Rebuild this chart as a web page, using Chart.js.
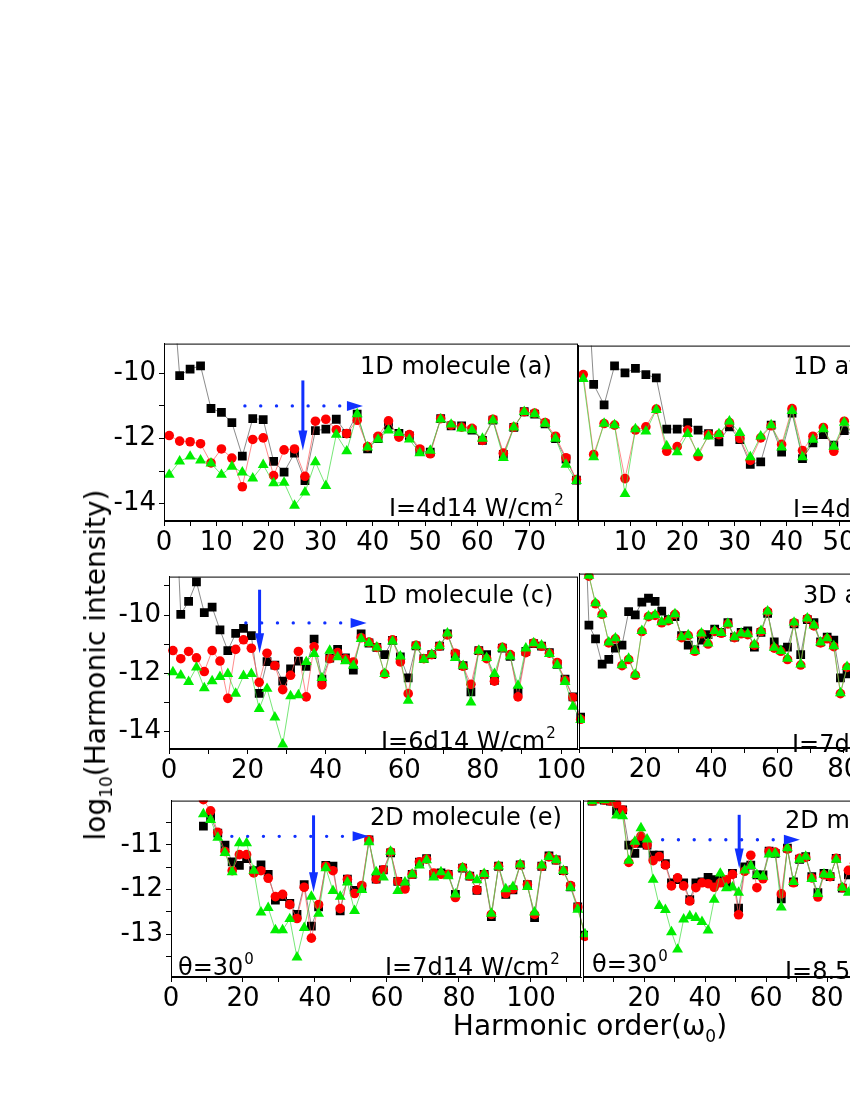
<!DOCTYPE html>
<html>
<head>
<meta charset="utf-8">
<script src="https://cdn.jsdelivr.net/npm/chart.js@4.4.1/dist/chart.umd.min.js"></script>
<style>
  html, body { margin: 0; padding: 0; background: #fff; }
  #fig { position: relative; width: 850px; height: 1100px; overflow: hidden; background: #fff; }
  #fig canvas { position: absolute; }
  .title { position: absolute; font-family: 'DejaVu Sans', sans-serif; font-size: 28px; color: #000; white-space: nowrap; line-height: 1; }
  .title span { font-size: 17px; position: relative; top: 7px; }
  #ytitle { left: 96px; top: 665px; transform: translate(-50%, -50%) rotate(-90deg); }
  #xtitle { left: 590px; top: 1026px; transform: translate(-50%, -50%); }
</style>
</head>
<body>
<div id="fig">
  <canvas id="pa"></canvas>
  <canvas id="pb"></canvas>
  <canvas id="pc"></canvas>
  <canvas id="pd"></canvas>
  <canvas id="pe"></canvas>
  <canvas id="pf"></canvas>
  <div class="title" id="ytitle">log<span>10</span>(Harmonic intensity)</div>
  <div class="title" id="xtitle">Harmonic order(ω<span>0</span>)</div>
</div>
<script>
// harmonic orders and log10 intensities
// black = squares, red = circles, green = triangles

// (a) 1D molecule, 4d14
const aH = [1, 3, 5, 7, 9, 11, 13, 15, 17, 19, 21, 23, 25, 27, 29, 31, 33, 35, 37, 39,
  41, 43, 45, 47, 49, 51, 53, 55, 57, 59, 61, 63, 65, 67, 69, 71, 73, 75, 77, 79];
const aBlack = [-6.0, -10.07, -9.87, -9.77, -11.08, -11.2, -11.51, -12.54, -11.39, -11.42,
  -12.7, -13.03, -12.45, -13.29, -11.76, -11.71, -11.41, -11.85, -11.25, -12.32,
  -12.0, -11.59, -11.84, -11.92, -12.37, -12.42, -11.39, -11.61, -11.61, -11.74,
  -12.06, -11.44, -12.49, -11.66, -11.18, -11.25, -11.55, -12.0, -12.63, -13.28];
const aRed = [-11.91, -12.08, -12.1, -12.16, -12.75, -12.32, -12.6, -13.48, -12.03, -11.98,
  -13.14, -12.35, -12.32, -13.16, -11.47, -11.41, -11.73, -11.85, -11.44, -12.25,
  -11.93, -11.46, -11.96, -11.88, -12.32, -12.47, -11.39, -11.59, -11.65, -11.69,
  -12.06, -11.41, -12.45, -11.65, -11.18, -11.22, -11.51, -11.93, -12.59, -13.26];
const aGreen = [-13.11, -12.7, -12.55, -12.67, -12.76, -13.11, -12.86, -13.04, -13.22, -12.81,
  -13.37, -13.35, -14.06, -13.65, -12.72, -13.45, -11.88, -12.39, -11.25, -12.27,
  -12.03, -11.75, -11.83, -12.03, -12.45, -12.37, -11.41, -11.57, -11.69, -11.74,
  -12.0, -11.44, -12.59, -11.66, -11.18, -11.25, -11.54, -12.0, -12.8, -13.3];

// (b) 1D atom, 4d14
const bH = [1, 3, 5, 7, 9, 11, 13, 15, 17, 19, 21, 23, 25, 27, 29, 31, 33, 35, 37, 39,
  41, 43, 45, 47, 49, 51, 53];
const bBlack = [-5.0, -10.34, -10.97, -9.77, -9.99, -9.85, -10.04, -10.14, -11.71, -11.71,
  -11.51, -11.74, -11.85, -12.1, -11.64, -12.03, -12.79, -12.72, -11.59, -12.42,
  -11.22, -12.62, -12.13, -11.88, -12.2, -11.76, -11.9];
const bRed = [-10.04, -12.49, -11.54, -11.59, -13.23, -11.74, -11.64, -11.1, -12.39, -12.25,
  -11.74, -12.55, -11.88, -11.88, -11.51, -12.0, -12.67, -11.98, -11.61, -12.18,
  -11.08, -12.37, -11.93, -11.66, -12.39, -11.47, -11.95];
const bGreen = [-10.17, -12.57, -11.54, -11.59, -13.7, -11.71, -11.78, -11.12, -12.23, -12.42,
  -11.86, -12.45, -11.93, -11.86, -11.47, -11.83, -12.57, -11.93, -11.59, -12.27,
  -11.15, -12.57, -12.03, -11.71, -12.25, -11.51, -11.95];

// (c) 1D molecule, 6d14
const cH = [1, 3, 5, 7, 9, 11, 13, 15, 17, 19, 21, 23, 25, 27, 29, 31, 33, 35, 37, 39,
  41, 43, 45, 47, 49, 51, 53, 55, 57, 59, 61, 63, 65, 67, 69, 71, 73, 75, 77, 79,
  81, 83, 85, 87, 89, 91, 93, 95, 97, 99, 101, 103, 105];
const cBlack = [-4.0, -9.98, -9.53, -8.86, -9.92, -9.73, -10.51, -11.22, -10.63, -10.46,
  -10.71, -12.69, -11.6, -11.72, -12.27, -11.85, -11.58, -11.76, -10.83, -12.2,
  -11.48, -11.18, -11.47, -11.89, -10.65, -10.96, -11.11, -11.36, -10.87, -11.44,
  -12.16, -11.06, -11.5, -11.36, -11.07, -10.65, -11.34, -11.74, -12.64, -11.22,
  -11.36, -12.24, -11.14, -11.42, -12.61, -11.25, -10.98, -11.07, -11.29, -11.69,
  -12.2, -12.81, -13.51];
const cRed = [-11.22, -11.5, -11.25, -11.47, -11.94, -11.22, -11.58, -12.86, -11.18, -10.85,
  -11.14, -12.31, -11.31, -11.74, -12.56, -12.07, -11.25, -12.81, -11.09, -12.4,
  -11.5, -11.29, -11.5, -11.61, -10.78, -10.93, -11.11, -12.02, -10.85, -11.61,
  -12.7, -11.04, -11.5, -11.36, -11.07, -10.68, -11.31, -11.76, -12.38, -11.22,
  -11.5, -12.27, -11.11, -11.36, -12.81, -11.29, -10.96, -11.07, -11.31, -11.63,
  -12.24, -12.83, -13.58];
const cGreen = [-11.96, -12.07, -12.29, -11.8, -12.51, -12.27, -12.12, -12.02, -12.7, -12.09,
  -12.02, -13.22, -12.53, -13.51, -14.44, -12.78, -12.75, -11.61, -11.33, -12.16,
  -11.22, -11.44, -11.58, -11.74, -10.82, -10.96, -11.11, -12.02, -10.9, -11.42,
  -12.94, -11.07, -11.53, -11.36, -11.07, -10.63, -11.47, -11.74, -13.0, -11.22,
  -11.47, -12.02, -11.14, -11.42, -12.42, -11.14, -10.96, -11.04, -11.33, -11.72,
  -12.29, -13.14, -13.6];

// (d) 3D atom, 7d14
const dH = [1, 3, 5, 7, 9, 11, 13, 15, 17, 19, 21, 23, 25, 27, 29, 31, 33, 35, 37, 39,
  41, 43, 45, 47, 49, 51, 53, 55, 57, 59, 61, 63, 65, 67, 69, 71, 73, 75, 77, 79, 81];
const dBlack = [-4.0, -10.35, -10.82, -11.69, -11.53, -11.14, -11.04, -9.89, -10.0, -9.56,
  -9.43, -9.54, -9.87, -10.16, -10.06, -10.71, -11.04, -11.2, -10.87, -10.68,
  -10.49, -10.6, -10.27, -10.76, -10.6, -10.55, -11.11, -10.6, -9.95, -10.93,
  -11.2, -11.11, -10.31, -11.36, -10.16, -10.27, -10.93, -10.76, -10.87, -12.16, -12.02];
const dRed = [null, -8.67, -9.62, -9.98, -10.96, -10.82, -11.74, -11.53, -12.07, -10.57,
  -10.06, -10.02, -10.27, -10.2, -9.98, -10.78, -10.71, -11.25, -10.65, -11.0,
  -10.57, -10.63, -10.31, -10.78, -10.65, -10.68, -11.04, -10.57, -9.89, -11.14,
  -11.25, -11.53, -10.27, -11.72, -10.13, -10.38, -10.96, -10.82, -11.09, -12.7, -11.8];
const dGreen = [null, -8.65, -9.6, -9.97, -10.94, -10.8, -11.72, -11.5, -12.05, -10.55,
  -10.05, -10.0, -10.25, -10.19, -9.97, -10.76, -10.69, -11.23, -10.63, -10.98,
  -10.55, -10.62, -10.3, -10.76, -10.63, -10.66, -11.02, -10.55, -9.88, -11.12,
  -11.23, -11.5, -10.26, -11.7, -10.12, -10.36, -10.94, -10.8, -11.07, -12.68, -11.78];

// (e) 2D molecule, 7d14, theta = 30
const eH = [9, 11, 13, 15, 17, 19, 21, 23, 25, 27, 29, 31, 33, 35, 37, 39, 41, 43, 45, 47,
  49, 51, 53, 55, 57, 59, 61, 63, 65, 67, 69, 71, 73, 75, 77, 79, 81, 83, 85, 87,
  89, 91, 93, 95, 97, 99, 101, 103, 105, 107, 109, 111, 113, 115];
const eBlack = [-10.58, -10.38, -10.74, -11.01, -11.38, -11.46, -11.31, -11.58, -11.45, -11.66,
  -12.24, -12.16, -12.31, -12.56, -11.89, -12.82, -12.39, -11.46, -11.48, -12.48,
  -11.77, -12.02, -11.95, -10.89, -11.77, -11.56, -11.18, -11.82, -11.89, -11.66,
  -11.39, -11.31, -11.66, -11.63, -11.66, -12.11, -11.52, -11.7, -12.02, -11.66,
  -12.61, -11.48, -12.11, -12.01, -11.45, -11.89, -12.63, -11.48, -11.25, -11.34,
  -11.58, -11.94, -12.39, -13.02];
const eRed = [-9.99, -10.24, -10.72, -11.15, -11.58, -11.22, -11.22, -11.63, -11.58, -11.75,
  -12.16, -12.11, -12.34, -12.65, -11.95, -13.09, -12.34, -11.48, -11.58, -12.43,
  -11.77, -12.09, -11.91, -10.89, -11.77, -11.56, -11.16, -11.82, -11.99, -11.66,
  -11.38, -11.32, -11.63, -11.66, -11.66, -12.18, -11.51, -11.7, -12.01, -11.66,
  -12.56, -11.48, -12.09, -11.99, -11.45, -11.89, -12.56, -11.48, -11.27, -11.34,
  -11.58, -11.91, -12.39, -13.05];
const eGreen = [-10.31, -10.44, -10.84, -11.18, -11.61, -10.96, -10.96, -11.58, -12.51, -12.41,
  -12.91, -12.91, -12.66, -13.52, -12.86, -12.16, -12.54, -11.52, -12.03, -12.16,
  -11.84, -12.48, -12.01, -10.94, -11.61, -11.73, -11.15, -12.03, -11.84, -11.66,
  -11.46, -11.34, -11.73, -11.61, -11.7, -12.11, -11.52, -11.7, -11.79, -11.65,
  -12.54, -11.48, -11.99, -11.94, -11.44, -11.94, -12.51, -11.46, -11.27, -11.34,
  -11.58, -11.96, -12.45, -13.0];

// (f) 2D molecule, 8.5d14, theta = 30
const fH = [3, 5, 7, 9, 11, 13, 15, 17, 19, 21, 23, 25, 27, 29, 31, 33, 35, 37, 39, 41,
  43, 45, 47, 49, 51, 53, 55, 57, 59, 61, 63, 65, 67, 69, 71, 73, 75, 77, 79, 81,
  83, 85, 87, 89];
const fBlack = [-10.0, -9.95, -9.98, -10.0, -10.22, -10.2, -10.99, -11.18, -10.95, -10.99,
  -11.22, -11.22, -11.41, -11.84, -11.77, -11.84, -12.22, -11.84, -11.82, -11.72,
  -11.77, -11.77, -11.84, -11.63, -12.41, -11.48, -11.44, -11.66, -11.66, -11.13,
  -11.18, -12.2, -11.06, -11.82, -11.31, -11.25, -11.7, -12.06, -11.63, -11.7,
  -11.29, -11.96, -11.66, -11.4];
const fRed = [-10.0, -9.95, -9.98, -10.0, -10.06, -10.2, -11.38, -10.95, -10.79, -10.99,
  -11.34, -11.25, -11.44, -11.91, -11.73, -11.91, -12.25, -11.95, -11.84, -11.86,
  -11.94, -11.84, -11.77, -11.65, -12.56, -11.58, -11.22, -11.95, -11.75, -11.13,
  -11.15, -12.09, -11.08, -11.84, -11.29, -11.27, -11.73, -12.16, -11.66, -11.7,
  -11.29, -11.95, -11.56, -11.4];
const fGreen = [-10.0, -9.95, -9.98, -9.95, -10.32, -10.34, -11.34, -10.91, -10.61, -10.86,
  -11.77, -12.36, -12.45, -12.95, -13.34, -12.66, -12.59, -12.63, -12.72, -12.91,
  -12.22, -11.63, -11.96, -11.94, -12.06, -11.56, -11.46, -11.66, -11.7, -11.2,
  -11.18, -12.39, -11.06, -11.82, -11.32, -11.25, -11.75, -12.09, -11.65, -11.66,
  -11.32, -11.95, -12.06, -11.4];

const FONT = "'DejaVu Sans', sans-serif";
const BLUE = '#1030ff';
const PADL = 72, PADT = 10, PADR = 30, PADB = 48;

const panels = [
  { id: 'pa', box: [164, 335, 578, 521], x: [0, 79.3], y: [-14.53, -9.09],
    xStep: 5, xMajor: 10, yStep: 1, yMajor: 2, yLabels: true, zeroLabel: true,
    h: aH, k: aBlack, r: aRed, g: aGreen,
    vArrow: [26.6, -10.22, -12.37], dArrow: [15.5, 38.1, -11.0],
    texts: [{ t: '1D molecule (a)', dx: 196, dy: 30 }, { t: 'I=4d14 W/cm', sup: '2', dx: 225, dy: 172 }] },
  { id: 'pb', box: [578, 337, 992, 521], x: [0, 79.3], y: [-14.53, -9.15],
    xStep: 5, xMajor: 10, yStep: 1, yMajor: 2, yLabels: false, zeroLabel: false,
    h: bH, k: bBlack, r: bRed, g: bGreen,
    texts: [{ t: '1D atom (b)', dx: 215, dy: 28 }, { t: 'I=4d14 W/cm', sup: '2', dx: 215, dy: 171 }] },
  { id: 'pc', box: [169, 568, 578, 749], x: [0, 104.3], y: [-14.6, -8.68],
    xStep: 10, xMajor: 20, yStep: 1, yMajor: 2, yLabels: true, zeroLabel: true,
    h: cH, k: cBlack, r: cRed, g: cGreen,
    vArrow: [23.1, -9.13, -11.31], dArrow: [19.6, 50.4, -10.27],
    texts: [{ t: '1D molecule (c)', dx: 194, dy: 26 }, { t: 'I=6d14 W/cm', sup: '2', dx: 212, dy: 172 }] },
  { id: 'pd', box: [579, 565, 988, 748], x: [0, 123.6], y: [-14.565, -8.585],
    xStep: 10, xMajor: 20, yStep: 1, yMajor: 2, yLabels: false, zeroLabel: false,
    h: dH, k: dBlack, r: dRed, g: dGreen,
    texts: [{ t: '3D atom (d)', dx: 224, dy: 29 }, { t: 'I=7d14 W/cm', sup: '2', dx: 213, dy: 178 }] },
  { id: 'pe', box: [171, 792, 581, 977], x: [0, 113.9], y: [-13.96, -10.01],
    xStep: 10, xMajor: 20, yStep: 0.5, yMajor: 1, yLabels: true, zeroLabel: true,
    h: eH, k: eBlack, r: eRed, g: eGreen,
    vArrow: [39.6, -10.34, -12.06], dArrow: [16.9, 54.9, -10.81],
    texts: [{ t: '2D molecule (e)', dx: 199, dy: 24 }, { t: 'θ=30', sup: '0', dx: 7, dy: 174 },
            { t: 'I=7d14 W/cm', sup: '2', dx: 214, dy: 174 }] },
  { id: 'pf', box: [583, 792, 993, 977], x: [0, 134.4], y: [-13.96, -9.99],
    xStep: 10, xMajor: 20, yStep: 0.5, yMajor: 1, yLabels: false, zeroLabel: false,
    h: fH, k: fBlack, r: fRed, g: fGreen,
    vArrow: [51.2, -10.31, -11.52], dArrow: [26.1, 71.1, -10.87],
    texts: [{ t: '2D molecule (f)', dx: 202, dy: 27 }, { t: 'θ=30', sup: '0', dx: 9, dy: 171 },
            { t: 'I=8.5d14 W/cm', sup: '2', dx: 202, dy: 178 }] }
];

// frame, blue arrows and in-panel labels
const decoPlugin = {
  id: 'deco',
  afterDatasetsDraw(chart, args, opts) {
    const { ctx, chartArea: a, scales: { x, y } } = chart;
    ctx.save();
    ctx.strokeStyle = '#000';
    ctx.lineWidth = 1;
    ctx.strokeRect(a.left + 0.5, a.top + 0.5, a.right - a.left - 1, a.bottom - a.top - 1);

    ctx.fillStyle = BLUE;
    ctx.strokeStyle = BLUE;
    if (opts.vArrow) {
      const [ax, y1, y2] = opts.vArrow;
      const px = x.getPixelForValue(ax), p1 = y.getPixelForValue(y1), p2 = y.getPixelForValue(y2);
      ctx.lineWidth = 3;
      ctx.beginPath();
      ctx.moveTo(px, p1);
      ctx.lineTo(px, p2 - 18);
      ctx.stroke();
      ctx.beginPath();
      ctx.moveTo(px - 4.5, p2 - 20);
      ctx.lineTo(px + 4.5, p2 - 20);
      ctx.lineTo(px, p2);
      ctx.closePath();
      ctx.fill();
    }
    if (opts.dArrow) {
      const [x1, x2, ay] = opts.dArrow;
      const p1 = x.getPixelForValue(x1), p2 = x.getPixelForValue(x2), py = y.getPixelForValue(ay);
      ctx.lineWidth = 3.4;
      ctx.lineCap = 'round';
      ctx.setLineDash([0, 15.8]);
      ctx.beginPath();
      ctx.moveTo(p1, py);
      ctx.lineTo(p2 - 14, py);
      ctx.stroke();
      ctx.setLineDash([]);
      ctx.beginPath();
      ctx.moveTo(p2 - 16, py - 5);
      ctx.lineTo(p2 - 16, py + 5);
      ctx.lineTo(p2, py);
      ctx.closePath();
      ctx.fill();
    }

    ctx.fillStyle = '#000';
    ctx.textBaseline = 'alphabetic';
    (opts.texts || []).forEach(tx => {
      const tx0 = a.left + tx.dx, ty0 = a.top + tx.dy;
      ctx.font = '24px ' + FONT;
      ctx.fillText(tx.t, tx0, ty0);
      if (tx.sup) {
        const w = ctx.measureText(tx.t).width;
        ctx.font = '15px ' + FONT;
        ctx.fillText(tx.sup, tx0 + w + 1, ty0 - 11);
      }
    });
    ctx.restore();
  }
};

function points(h, v) {
  return h.map((hx, i) => ({ x: hx, y: v[i] }));
}

const clipBox = { left: 7, right: 7, top: 0, bottom: 6 };

function makeChart(p) {
  const cv = document.getElementById(p.id);
  const [L, T, R, B] = p.box;
  cv.width = (R - L) + PADL + PADR;
  cv.height = (B - T) + PADT + PADB;
  cv.style.left = (L - PADL) + 'px';
  cv.style.top = (T - PADT) + 'px';

  const isMajor = (v, m) => Math.abs(v / m - Math.round(v / m)) < 1e-6;

  new Chart(cv, {
    type: 'line',
    data: {
      datasets: [
        { label: 'black', data: points(p.h, p.k), order: 3,
          borderColor: 'rgba(90,90,90,0.7)', borderWidth: 1,
          pointStyle: 'rect', pointRadius: 6.2, pointBackgroundColor: '#000', pointBorderWidth: 0,
          clip: clipBox },
        { label: 'red', data: points(p.h, p.r), order: 2,
          borderColor: 'rgba(255,90,90,0.7)', borderWidth: 1,
          pointStyle: 'circle', pointRadius: 4.8, pointBackgroundColor: '#ff0000', pointBorderWidth: 0,
          clip: clipBox },
        { label: 'green', data: points(p.h, p.g), order: 1,
          borderColor: 'rgba(60,220,60,0.7)', borderWidth: 1,
          pointStyle: 'triangle', pointRadius: 6.3, pointBackgroundColor: '#00ee00', pointBorderWidth: 0,
          clip: clipBox }
      ]
    },
    options: {
      responsive: false,
      animation: false,
      events: [],
      layout: { autoPadding: false, padding: { left: 0, top: PADT, right: PADR, bottom: 0 } },
      plugins: {
        legend: { display: false },
        tooltip: { enabled: false },
        deco: { vArrow: p.vArrow, dArrow: p.dArrow, texts: p.texts }
      },
      scales: {
        x: {
          type: 'linear',
          min: p.x[0], max: p.x[1],
          afterFit(s) { s.height = PADB; },
          border: { display: true, color: '#000', width: 1 },
          grid: { drawOnChartArea: false, drawTicks: true, tickLength: 5, color: '#000' },
          ticks: {
            stepSize: p.xStep, includeBounds: false, autoSkip: false, maxRotation: 0,
            color: '#000', padding: 2, font: { family: FONT, size: 26 },
            callback: v => (isMajor(v, p.xMajor) && (v !== 0 || p.zeroLabel)) ? String(v) : ''
          }
        },
        y: {
          type: 'linear',
          min: p.y[0], max: p.y[1],
          afterFit(s) { s.width = PADL; },
          border: { display: true, color: '#000', width: 1 },
          grid: { drawOnChartArea: false, drawTicks: p.yLabels, tickLength: 5, color: '#000' },
          ticks: {
            stepSize: p.yStep, includeBounds: false, autoSkip: false,
            color: '#000', padding: 3, font: { family: FONT, size: 26 },
            callback: v => (p.yLabels && isMajor(v, p.yMajor)) ? '-' + Math.abs(v) : ''
          }
        }
      }
    },
    plugins: [decoPlugin]
  });
}

panels.forEach(makeChart);
</script>
</body>
</html>
